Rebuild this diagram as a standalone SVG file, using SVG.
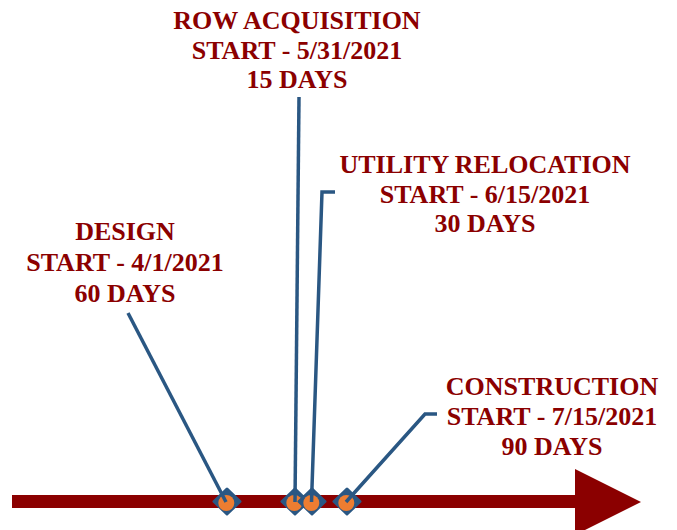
<svg xmlns="http://www.w3.org/2000/svg" width="677" height="530" viewBox="0 0 677 530">
<style>
.lbl{font-family:"Liberation Serif","Times New Roman",serif;font-weight:bold;font-size:26px;fill:#8B0000;text-anchor:middle}
.con{fill:none;stroke:#2A5783;stroke-width:3.5;stroke-linejoin:miter}
.dia{fill:#2A5783;stroke:#2A5783;stroke-width:3;stroke-linejoin:round}
.dot{fill:#ED7D31}
</style>
<rect width="677" height="530" fill="#FFFFFF"/>
<g id="timeline">
<rect x="12" y="495" width="565" height="13" fill="#8B0000"/>
<polygon points="575,469 641,502 575,535" fill="#8B0000"/>
</g>
<g id="milestone-design">
<polygon class="dia" points="227,489 240,501.5 227,514 214,501.5"/>
<circle class="dot" cx="226.3" cy="503" r="8"/>
</g>
<g id="milestone-row">
<polygon class="dia" points="295,489 308,501.5 295,514 282,501.5"/>
<circle class="dot" cx="294.3" cy="503" r="8"/>
</g>
<g id="milestone-utility">
<polygon class="dia" points="312,489 325,501.5 312,514 299,501.5"/>
<circle class="dot" cx="311.3" cy="503" r="8"/>
</g>
<g id="milestone-construction">
<polygon class="dia" points="347,489 360,501.5 347,514 334,501.5"/>
<circle class="dot" cx="346.3" cy="503" r="8"/>
</g>
<g id="connectors">
<polyline class="con" points="128,313 226,502"/>
<polyline class="con" points="299,97 295,502"/>
<polyline class="con" points="335,192 322,192 311.5,502"/>
<polyline class="con" points="437,414 425,414 346,502"/>
</g>
<g id="design">
<text class="lbl" x="125" y="240">DESIGN</text>
<text class="lbl" x="125" y="271">START - 4/1/2021</text>
<text class="lbl" x="125" y="302">60 DAYS</text>
</g>
<g id="row">
<text class="lbl" x="297" y="29">ROW ACQUISITION</text>
<text class="lbl" x="297" y="59">START - 5/31/2021</text>
<text class="lbl" x="297" y="88">15 DAYS</text>
</g>
<g id="utility">
<text class="lbl" x="485" y="173">UTILITY RELOCATION</text>
<text class="lbl" x="485" y="203">START - 6/15/2021</text>
<text class="lbl" x="485" y="232">30 DAYS</text>
</g>
<g id="construction">
<text class="lbl" x="552" y="395">CONSTRUCTION</text>
<text class="lbl" x="552" y="425">START - 7/15/2021</text>
<text class="lbl" x="552" y="455">90 DAYS</text>
</g>
</svg>
